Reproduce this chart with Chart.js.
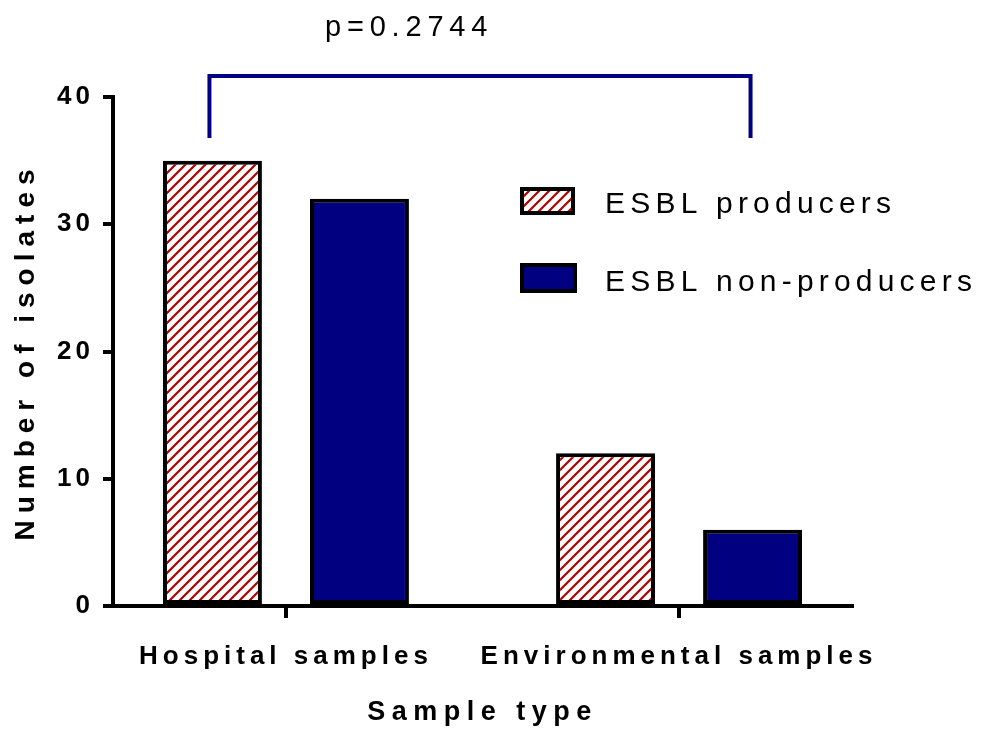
<!DOCTYPE html>
<html>
<head>
<meta charset="utf-8">
<script src="https://cdn.jsdelivr.net/npm/chart.js@4.4.1/dist/chart.umd.min.js"></script>
<style>
  html, body { margin: 0; padding: 0; background: #fff; }
  #c { display: block; }
</style>
</head>
<body>
<canvas id="c" width="981" height="729"></canvas>
<script>
// ---- data ----
const categories = ['Hospital samples', 'Environmental samples'];
const seriesLabels = ['ESBL producers', 'ESBL non-producers'];
const producers = [35, 12];
const nonProducers = [32, 6];
const yTicks = [0, 10, 20, 30, 40];
const xTitle = 'Sample type';
const yTitle = 'Number of isolates';
const pValueLabel = 'p=0.2744';

const FONT = "'Liberation Sans', Arial, sans-serif";
const NAVY = '#000080';
const HATCH_RED = '#b00000';

function makeHatch() {
  const s = 10;
  const c = document.createElement('canvas');
  c.width = s; c.height = s;
  const g = c.getContext('2d');
  g.fillStyle = '#fff';
  g.fillRect(0, 0, s, s);
  g.strokeStyle = HATCH_RED;
  g.lineWidth = 2.2;
  g.beginPath();
  g.moveTo(0, s); g.lineTo(s, 0);
  g.moveTo(-s / 2, s / 2); g.lineTo(s / 2, -s / 2);
  g.moveTo(s / 2, s * 1.5); g.lineTo(s * 1.5, s / 2);
  g.stroke();
  return g.createPattern(c, 'repeat');
}
const ctx = document.getElementById('c').getContext('2d');
const hatch = makeHatch();

function spaced(fnName, spacing) {
  return function (scale) {
    if (scale['_p_' + fnName]) return;
    const orig = scale[fnName].bind(scale);
    scale[fnName] = function (...args) {
      const c = scale.ctx;
      const prev = c.letterSpacing;
      c.letterSpacing = spacing;
      orig(...args);
      c.letterSpacing = prev || '0px';
    };
    scale['_p_' + fnName] = true;
  };
}

const spacingPlugin = {
  id: 'spacing',
  beforeDraw(chart) {
    spaced('drawLabels', '5px')(chart.scales.x);
    spaced('drawTitle', '6.5px')(chart.scales.x);
    spaced('drawLabels', '4px')(chart.scales.y);
    spaced('drawTitle', '7px')(chart.scales.y);
  }
};

const annotPlugin = {
  id: 'annot',
  afterDraw(chart) {
    const c = chart.ctx;
    const y = chart.scales.y;
    const x0 = chart.getDatasetMeta(0).data[0].x;
    const x1 = chart.getDatasetMeta(1).data[1].x;
    const yTop = Math.round(y.getPixelForValue(41.65));
    const yBot = Math.round(y.getPixelForValue(36.75));
    c.save();
    c.strokeStyle = NAVY;
    c.lineWidth = 4;
    c.lineJoin = 'miter';
    c.beginPath();
    c.moveTo(x0 - 3, yBot);
    c.lineTo(x0 - 3, yTop);
    c.lineTo(x1 - 2, yTop);
    c.lineTo(x1 - 2, yBot);
    c.stroke();

    c.fillStyle = '#000';
    c.font = '29px ' + FONT;
    c.letterSpacing = '5.8px';
    c.textAlign = 'left';
    c.textBaseline = 'middle';
    c.fillText(pValueLabel, 325, 28);

    // legend
    const ds = chart.data.datasets;
    const boxes = [[520, 187, 55, 28, 205], [520, 263, 57, 30, 283]];
    ds.forEach((d, i) => {
      const [bx, by, bw, bh, ty] = boxes[i];
      c.fillStyle = '#000';
      c.fillRect(bx, by, bw, bh);
      c.fillStyle = d.backgroundColor;
      c.fillRect(bx + 4, by + 4, bw - 8, bh - 8);
      c.fillStyle = '#000';
      c.font = '30px ' + FONT;
      c.letterSpacing = '5.2px';
      c.fillText(d.label, 605, ty);
    });
    c.restore();
  }
};

new Chart(ctx, {
  type: 'bar',
  data: {
    datasets: [
      {
        label: seriesLabels[0],
        data: producers.map((v, i) => ({ x: i, y: v })),
        backgroundColor: hatch,
        borderColor: '#000',
        borderWidth: 4,
        borderSkipped: false
      },
      {
        label: seriesLabels[1],
        data: nonProducers.map((v, i) => ({ x: i, y: v })),
        backgroundColor: NAVY,
        borderColor: '#000',
        borderWidth: 4,
        borderSkipped: false
      }
    ]
  },
  options: {
    responsive: false,
    animation: false,
    categoryPercentage: 0.748,
    barPercentage: 0.673,
    layout: { padding: { top: 97, right: 129, left: 0, bottom: 0 } },
    plugins: { legend: { display: false }, tooltip: { enabled: false } },
    scales: {
      x: {
        type: 'linear',
        min: -0.44,
        max: 1.44,
        offset: false,
        afterBuildTicks: s => { s.ticks = categories.map((c, i) => ({ value: i })); },
        afterFit: s => { s.height = 123; },
        ticks: {
          callback: v => categories[v],
          autoSkip: false,
          maxRotation: 0,
          color: '#000',
          padding: 23,
          font: { family: FONT, size: 26, weight: 'bold' }
        },
        grid: { offset: false, drawOnChartArea: false, drawTicks: true, tickLength: 12, lineWidth: 4, color: '#000' },
        border: { display: true, width: 4, color: '#000' },
        title: {
          display: true, text: xTitle, color: '#000',
          font: { family: FONT, size: 27, weight: 'bold' },
          padding: { top: 0, bottom: 0 }
        }
      },
      y: {
        min: 0,
        max: 40,
        afterBuildTicks: s => { s.ticks = yTicks.map(v => ({ value: v })); },
        afterFit: s => { s.width = 113; },
        ticks: {
          color: '#000',
          padding: 9,
          font: { family: FONT, size: 26, weight: 'bold' }
        },
        grid: { drawOnChartArea: false, drawTicks: true, tickLength: 10, lineWidth: 4, color: '#000' },
        border: { display: true, width: 4, color: '#000' },
        title: {
          display: true, text: yTitle, color: '#000',
          font: { family: FONT, size: 28, weight: 'bold' },
          padding: { top: 9, bottom: 0 }
        }
      }
    }
  },
  plugins: [spacingPlugin, annotPlugin]
});
</script>
</body>
</html>
